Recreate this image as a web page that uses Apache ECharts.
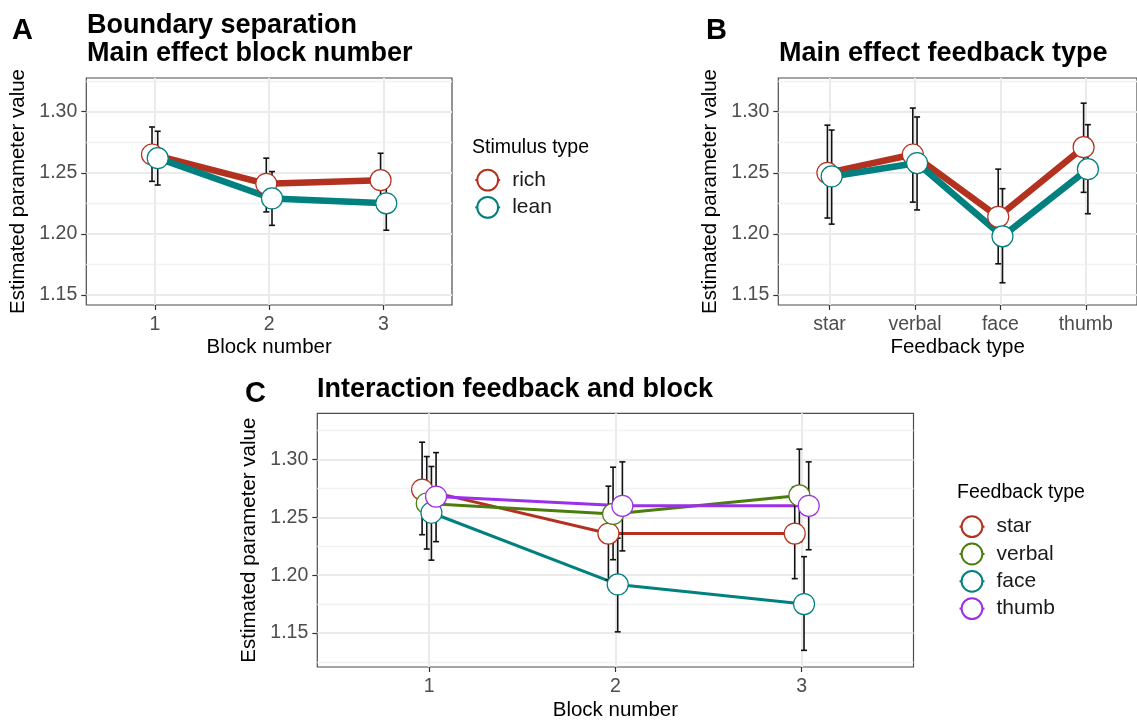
<!DOCTYPE html>
<html><head><meta charset="utf-8">
<script src="https://cdn.jsdelivr.net/npm/echarts@6/dist/echarts.min.js"></script>
<style>html,body{margin:0;padding:0;background:#fff}#c{width:1137px;height:722px}</style>
</head><body><div id="c"></div>
<script>
// ---------- data ----------
const blocks = ['1', '2', '3'];
const feedbackTypes = ['star', 'verbal', 'face', 'thumb'];
const stimulusTypes = ['rich', 'lean'];
const yTicks = [1.15, 1.20, 1.25, 1.30];
const yMinorAB = [1.175, 1.225, 1.275, 1.325];
const yMinorC = [1.125, 1.175, 1.225, 1.275, 1.325];

// Panel A: block number x stimulus type
const blockRich   = [1.265, 1.241, 1.244];
const blockRichLo = [1.243, 1.218, 1.222];
const blockRichHi = [1.2875, 1.262, 1.266];
const blockLean   = [1.262, 1.229, 1.225];
const blockLeanLo = [1.240, 1.207, 1.203];
const blockLeanHi = [1.284, 1.251, 1.247];

// Panel B: feedback type x stimulus type
const fbRich   = [1.250, 1.265, 1.214, 1.271];
const fbRichLo = [1.213, 1.226, 1.1755, 1.234];
const fbRichHi = [1.289, 1.303, 1.253, 1.307];
const fbLean   = [1.247, 1.258, 1.198, 1.253];
const fbLeanLo = [1.208, 1.2196, 1.160, 1.2165];
const fbLeanHi = [1.285, 1.2957, 1.237, 1.2894];

// Panel C: feedback type x block
const cStar     = [1.274, 1.236, 1.236];
const cStarLo   = [1.235, 1.196, 1.197];
const cStarHi   = [1.315, 1.277, 1.276];
const cVerbal   = [1.262, 1.253, 1.269];
const cVerbalLo = [1.2226, 1.2134, 1.229];
const cVerbalHi = [1.3026, 1.2934, 1.309];
const cFace     = [1.254, 1.192, 1.175];
const cFaceLo   = [1.213, 1.151, 1.135];
const cFaceHi   = [1.294, 1.232, 1.216];
const cThumb    = [1.268, 1.260, 1.260];
const cThumbLo  = [1.229, 1.221, 1.222];
const cThumbHi  = [1.306, 1.298, 1.298];

// ---------- styling ----------
const FONT = '"Liberation Sans", Arial, Helvetica, sans-serif';
const RED = '#B3321F', TEAL = '#00807F', GREEN = '#4B7D0D', PURPLE = '#9B30E8';

const grids = [
  { left: 86.3, top: 78, width: 365.7, height: 227 },
  { left: 778.3, top: 78, width: 366.4, height: 227 },
  { left: 317.3, top: 413.3, width: 596.2, height: 256 }
].map(g => Object.assign(g, { show: true, borderColor: '#4d4d4d', borderWidth: 1.2, backgroundColor: '#fff' }));

function xAxisFor(gridIndex, labels, labelMargin, nameText, nameGap) {
  const vals = labels.map((_, i) => i + 1);
  return {
    type: 'value', gridIndex, min: 0.4, max: labels.length + 0.6,
    name: nameText, nameLocation: 'middle', nameGap,
    nameTextStyle: { fontSize: 20.5, color: '#000', fontFamily: FONT },
    axisLine: { show: false },
    axisTick: { show: true, length: 5, lineStyle: { color: '#333', width: 1.2 }, customValues: vals },
    axisLabel: { customValues: vals, formatter: v => labels[Math.round(v) - 1], fontSize: 19.5, color: '#4D4D4D', margin: labelMargin, fontFamily: FONT },
    splitLine: { show: true, lineStyle: { color: '#EBEBEB', width: 2 } }
  };
}
function yAxesFor(gridIndex, min, max, minor) {
  return [{
    type: 'value', gridIndex, min, max, position: 'left',
    name: 'Estimated parameter value', nameLocation: 'middle', nameGap: 57,
    nameTextStyle: { fontSize: 20.5, color: '#000', fontFamily: FONT },
    axisLine: { show: false },
    axisTick: { show: true, length: 5, lineStyle: { color: '#333', width: 1.2 }, customValues: yTicks },
    axisLabel: { customValues: yTicks, formatter: v => v.toFixed(2), fontSize: 19.5, color: '#4D4D4D', margin: 9, fontFamily: FONT },
    splitLine: { show: true, lineStyle: { color: '#EBEBEB', width: 2 } }
  }, {
    type: 'value', gridIndex, min, max, position: 'left',
    axisLine: { show: false },
    axisTick: { show: false, customValues: minor },
    axisLabel: { show: false, customValues: minor },
    splitLine: { show: true, lineStyle: { color: '#F2F2F2', width: 1.3 } }
  }];
}

const xAxes = [
  xAxisFor(0, blocks, 9.5, 'Block number', 32),
  xAxisFor(1, feedbackTypes, 9.5, 'Feedback type', 32),
  xAxisFor(2, blocks, 9.5, 'Block number', 33)
];
const yAxes = [].concat(
  yAxesFor(0, 1.1418, 1.3276, yMinorAB),
  yAxesFor(1, 1.1418, 1.3276, yMinorAB),
  yAxesFor(2, 1.1206, 1.3400, yMinorC)
);

const errSeries = [], lineSeries = [], pointSeries = [];
function addGroup(name, xi, yi, vals, lo, hi, offset, color, lw) {
  errSeries.push({
    type: 'custom', name: name + ' CI', xAxisIndex: xi, yAxisIndex: yi, z: 4, silent: true,
    data: vals.map((v, i) => [i + 1 + offset, lo[i], hi[i]]),
    encode: { x: 0, y: [1, 2] },
    renderItem: (params, api) => {
      const x = api.value(0);
      const a = api.coord([x, api.value(1)]);
      const b = api.coord([x, api.value(2)]);
      const cap = 3, st = { stroke: '#111', lineWidth: 1.6 };
      return { type: 'group', children: [
        { type: 'line', shape: { x1: a[0], y1: a[1], x2: b[0], y2: b[1] }, style: st },
        { type: 'line', shape: { x1: a[0] - cap, y1: a[1], x2: a[0] + cap, y2: a[1] }, style: st },
        { type: 'line', shape: { x1: b[0] - cap, y1: b[1], x2: b[0] + cap, y2: b[1] }, style: st }
      ]};
    }
  });
  lineSeries.push({
    type: 'line', name, xAxisIndex: xi, yAxisIndex: yi, z: 3, symbol: 'circle', showSymbol: false,
    color, lineStyle: { color, width: lw },
    itemStyle: { color: '#fff', borderColor: color, borderWidth: 1.2 },
    data: vals.map((v, i) => [i + 1 + offset, v])
  });
  pointSeries.push({
    type: 'scatter', name, xAxisIndex: xi, yAxisIndex: yi, z: 5, symbol: 'circle', symbolSize: 21,
    itemStyle: { color: '#fff', borderColor: color, borderWidth: 1.2, opacity: 1 },
    data: vals.map((v, i) => [i + 1 + offset, v])
  });
}

// Panel A
addGroup('rich', 0, 0, blockRich, blockRichLo, blockRichHi, -0.025, RED, 6.5);
addGroup('lean', 0, 0, blockLean, blockLeanLo, blockLeanHi, 0.025, TEAL, 6.5);
// Panel B
addGroup('rich', 1, 2, fbRich, fbRichLo, fbRichHi, -0.025, RED, 6.5);
addGroup('lean', 1, 2, fbLean, fbLeanLo, fbLeanHi, 0.025, TEAL, 6.5);
// Panel C
addGroup('star', 2, 4, cStar, cStarLo, cStarHi, -0.0375, RED, 3);
addGroup('verbal', 2, 4, cVerbal, cVerbalLo, cVerbalHi, -0.0125, GREEN, 3);
addGroup('face', 2, 4, cFace, cFaceLo, cFaceHi, 0.0125, TEAL, 3);
addGroup('thumb', 2, 4, cThumb, cThumbLo, cThumbHi, 0.0375, PURPLE, 3);

const legendCommon = {
  orient: 'vertical', itemWidth: 25, itemHeight: 26, itemGap: 4.5, padding: 0,
  selectedMode: false,
  textStyle: { fontSize: 21, color: '#1a1a1a', fontFamily: FONT, padding: [0, 0, 0, 7] }
};
const legends = [
  Object.assign({ left: 474.2, top: 168.7, data: stimulusTypes }, legendCommon),
  Object.assign({ left: 958.5, top: 515.3, data: feedbackTypes }, legendCommon)
];

function txt(x, y, text, font) {
  return { type: 'text', x, y, silent: true, style: { text, fill: '#000', font, verticalAlign: 'middle', align: 'left' } };
}
const BOLD_L = 'bold 29px ' + FONT, BOLD_T = 'bold 27px ' + FONT, LEG_T = '19.5px ' + FONT;
const graphics = [
  txt(12, 31, 'A', BOLD_L),
  txt(87, 26, 'Boundary separation', BOLD_T),
  txt(87, 54, 'Main effect block number', BOLD_T),
  txt(706, 31, 'B', BOLD_L),
  txt(779, 54, 'Main effect feedback type', BOLD_T),
  txt(245, 394, 'C', BOLD_L),
  txt(317, 390, 'Interaction feedback and block', BOLD_T),
  txt(472, 148, 'Stimulus type', LEG_T),
  txt(957, 493, 'Feedback type', LEG_T)
];

const chart = echarts.init(document.getElementById('c'), null, { renderer: 'canvas' });
chart.setOption({
  animation: false,
  backgroundColor: '#fff',
  textStyle: { fontFamily: FONT },
  grid: grids,
  xAxis: xAxes,
  yAxis: yAxes,
  legend: legends,
  graphic: graphics,
  series: [].concat(lineSeries, errSeries, pointSeries)
});
</script>
</body></html>
